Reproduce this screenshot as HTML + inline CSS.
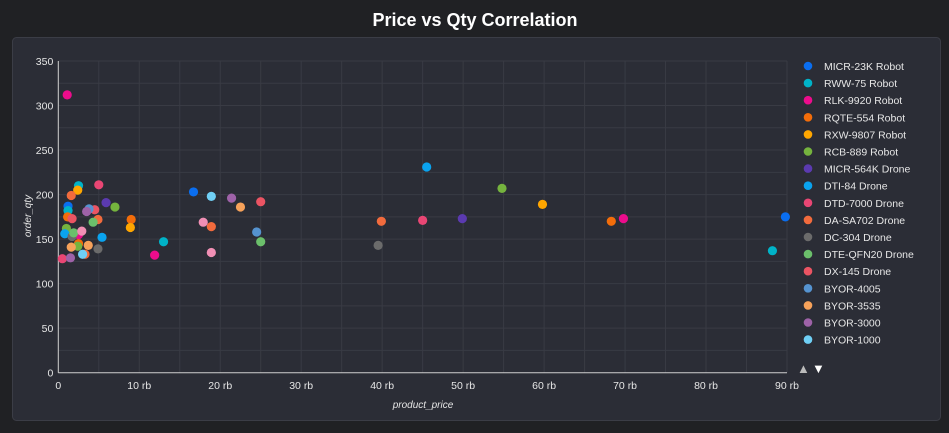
<!DOCTYPE html>
<html><head><meta charset="utf-8">
<style>
html,body{margin:0;padding:0;background:#202124;width:949px;height:433px;overflow:hidden}
svg{display:block;font-family:"Liberation Sans",sans-serif}
</style></head>
<body>
<svg id="chart" width="949" height="433">
<text x="475" y="26" text-anchor="middle" fill="#ffffff" font-size="18" font-weight="bold">Price vs Qty Correlation</text>
<rect x="12.5" y="37.5" width="928" height="383" rx="4" fill="#2b2d36" stroke="#3b3d46"/>
<g id="grid"></g><g id="axes"></g><g id="points"></g><g id="legend"></g>
<text x="423" y="408" text-anchor="middle" fill="#e6e6e6" font-size="10" font-style="italic">product_price</text>
<text transform="translate(31,216) rotate(-90)" text-anchor="middle" fill="#e6e6e6" font-size="10" font-style="italic">order_qty</text>
<text x="797" y="373" fill="#bbbbbb" font-size="13">▲</text>
<text x="812" y="373" fill="#ffffff" font-size="13">▼</text>
</svg>
<script>
const seriesNames=["MICR-23K Robot","RWW-75 Robot","RLK-9920 Robot","RQTE-554 Robot","RXW-9807 Robot","RCB-889 Robot","MICR-564K Drone","DTI-84 Drone","DTD-7000 Drone","DA-SA702 Drone","DC-304 Drone","DTE-QFN20 Drone","DX-145 Drone","BYOR-4005","BYOR-3535","BYOR-3000","BYOR-1000","BYOR-extra"];
const seriesColors=["#0a6ef0","#00b3c8","#ec0c8c","#f36d0a","#ffa600","#75b33e","#5b3ab0","#0aa3ef","#e94674","#f26b3d","#6b6b6b","#6bbf6b","#eb5463","#5593d0","#f7a25a","#9e62a8","#6fcff5","#f08fb4"];
const seriesPrices=[[1.2,16.7,89.8],[2.5,1.2,13.0,88.2],[1.1,2.5,11.9,69.8],[1.15,9.0,2.5,68.3],[2.4,8.9,59.8],[7.0,1.0,2.4,54.8],[5.9,49.9],[0.8,5.4,45.5],[5.0,0.5,45],[1.6,4.9,3.3,18.9,39.9],[1.7,4.9,39.5],[4.3,1.9,25.0],[4.5,1.7,25.0],[3.8,24.5],[1.6,3.7,22.5],[3.5,1.5,21.4],[3.0,18.9],[2.9,17.9,18.9]];
const seriesQty=[[187,203,175],[210,182,147,137],[312,155,132,173],[175,172,145,170],[205,163,189],[186,162,142,207],[191,173],[156,152,231],[211,128,171],[199,172,133,164,170],[153,139,143],[169,157,147],[183,173,192],[184,158],[141,143,186],[181,129,196],[133,198],[159,169,135]];
const xTicks=[0,10,20,30,40,50,60,70,80,90];
const yTicks=[0,50,100,150,200,250,300,350];
const NS="http://www.w3.org/2000/svg";
const X0=58.3,X1=787,Y0=372.7,Y1=61;
function xs(v){return X0+(v/90)*(X1-X0);}
function ys(v){return Y0-(v/350)*(Y0-Y1);}
function mk(t,a,p){const e=document.createElementNS(NS,t);for(const k in a)e.setAttribute(k,a[k]);p.appendChild(e);return e;}
const grid=document.getElementById('grid'),axes=document.getElementById('axes'),pts=document.getElementById('points'),leg=document.getElementById('legend');
for(let v=0;v<=90;v+=5){const l=mk('line',{x1:xs(v),x2:xs(v),y1:Y1,y2:Y0,stroke:'#393b44','stroke-width':1},grid);

}
for(let v=25;v<=350;v+=25){const l=mk('line',{x1:X0,x2:X1,y1:ys(v),y2:ys(v),stroke:'#393b44','stroke-width':1},grid);

}
const xa=mk('line',{x1:X0,x2:X1,y1:Y0,y2:Y0,stroke:'#cfcfcf','stroke-width':1},axes);


const ya=mk('line',{x1:X0,x2:X0,y1:Y1,y2:Y0,stroke:'#cfcfcf','stroke-width':1},axes);


xTicks.forEach(v=>{const t=mk('text',{x:xs(v),y:389,'text-anchor':'middle',fill:'#e6e6e6','font-size':10.5},axes);t.textContent=v===0?'0':v+' rb';

});
yTicks.forEach(v=>{const t=mk('text',{x:X0-5,y:ys(v)+4,'text-anchor':'end',fill:'#e6e6e6','font-size':10.5},axes);t.textContent=v;

});
seriesNames.forEach((n,i)=>{seriesPrices[i].forEach((p,j)=>{const c=mk('circle',{cx:xs(p),cy:ys(seriesQty[i][j]),r:4.6,fill:seriesColors[i]},pts);

});});
seriesNames.slice(0,17).forEach((n,i)=>{const y=66+i*17.1;const g=mk('g',{},leg);


mk('circle',{cx:808,cy:y,r:4.3,fill:seriesColors[i]},g);const t=mk('text',{x:824,y:y+4,fill:'#e6e6e6','font-size':10.5},g);t.textContent=n;});
</script>
</body></html>
